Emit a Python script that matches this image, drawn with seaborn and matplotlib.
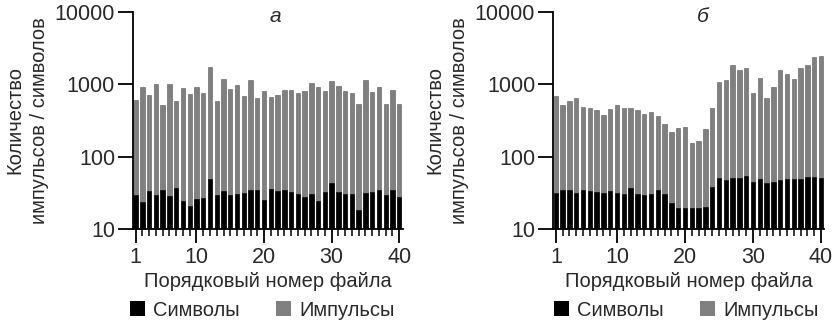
import numpy as np
import pandas as pd
import seaborn as sns
import matplotlib.pyplot as plt
from matplotlib.patches import Patch
from matplotlib.ticker import FixedLocator, NullLocator


file_no = list(range(1, 41))

# panel а
impulses_a = [600, 910, 700, 1000, 510, 1000, 580, 900, 745, 930,
              765, 1750, 595, 1200, 870, 980, 690, 1160, 655, 800,
              676, 705, 826, 835, 765, 800, 1055, 930, 800, 1100,
              940, 810, 765, 540, 1160, 775, 930, 540, 826, 535]
symbols_a = [29, 23.5, 33, 29, 34, 28.5, 37, 24, 21, 26,
             27, 49, 29, 33, 29, 30, 31, 35, 35, 25,
             36, 33, 34, 32, 30, 28, 30, 24, 32, 43,
             32, 30, 30, 18, 31, 32, 34, 29, 35, 28]

# panel б
impulses_b = [690, 525, 583, 648, 492, 477, 443, 374, 448, 525,
              472, 472, 434, 386, 420, 362, 278, 218, 250, 255,
              155, 165, 242, 472, 1090, 1160, 1850, 1595, 1660, 767,
              1220, 648, 910, 1595, 1400, 1185, 1660, 1850, 2410, 2485]
symbols_b = [31, 35, 35, 31, 35, 33, 32, 31, 33, 31,
             30, 37, 30, 29, 30, 35, 30, 23, 19.5, 19.5,
             19.5, 19.5, 20, 38, 50, 48, 50, 50, 54, 45,
             49, 43, 44, 47, 49, 49, 49, 52, 52, 50]

panel_titles = ["а", "б"]
series_names = ["Символы", "Импульсы"]
colors = {"Символы": "#000000", "Импульсы": "#808080"}
text_col = "#2a2a2a"

plt.rcParams["font.family"] = ["Liberation Sans", "DejaVu Sans"]

fig = plt.figure(figsize=(8.37, 3.22), dpi=100)
positions = [[0.159, 0.289, 0.322, 0.674], [0.661, 0.289, 0.324, 0.674]]
panels = [(impulses_a, symbols_a), (impulses_b, symbols_b)]

for pos, (imp, sym), title, tx, lx in zip(positions, panels, panel_titles,
                                          [0.528, 0.55], [0.48, 0.49]):
    ax = fig.add_axes(pos)
    df = pd.DataFrame({
        "file": file_no * 2,
        "value": imp + sym,
        "series": ["Импульсы"] * 40 + ["Символы"] * 40,
    })
    ax.set_yscale("log")
    sns.barplot(data=df, x="file", y="value", hue="series",
                hue_order=["Импульсы", "Символы"], palette=colors,
                dodge=False, native_scale=True, width=0.65,
                edgecolor="#5a5a5a", linewidth=0.4, legend=False, ax=ax)
    # black bars without grey edge
    for bar in ax.patches[40:]:
        bar.set_edgecolor("black")

    ax.set_ylim(10, 10000)
    ax.set_xlim(0.62, 40.5)
    ax.yaxis.set_major_locator(FixedLocator([10, 100, 1000, 10000]))
    ax.yaxis.set_minor_locator(NullLocator())
    ax.set_yticklabels(["10", "100", "1000", "10000"])
    ax.set_xticks([1, 10, 20, 30, 40])
    ax.set_xticks([i for i in file_no if i not in (1, 10, 20, 30, 40)], minor=True)

    sns.despine(ax=ax)
    for s in ax.spines.values():
        s.set_linewidth(1.3)
    ax.tick_params(axis="y", which="major", length=11, width=1.3,
                   labelsize=15.5, pad=2, labelcolor=text_col)
    ax.tick_params(axis="x", which="major", length=10, width=1.3,
                   labelsize=15.5, pad=3, labelcolor=text_col)
    ax.tick_params(axis="x", which="minor", length=5, width=1.1)

    ax.set_xlabel("Порядковый номер файла", fontsize=14.5, labelpad=3, color=text_col)
    ax.set_ylabel("Количество\nимпульсов / символов", fontsize=14.5,
                  labelpad=4, color=text_col, linespacing=1.4)
    ax.text(tx, 0.955, title, transform=ax.transAxes, fontsize=15,
            style="italic", ha="center", va="baseline", color=text_col)

    handles = [Patch(facecolor=colors[n], edgecolor="none") for n in series_names]
    leg = ax.legend(handles, series_names, loc="center",
                    bbox_to_anchor=(lx, -0.375), ncol=2, frameon=False,
                    fontsize=14.5, handlelength=0.75, handleheight=0.75,
                    handletextpad=0.4, columnspacing=1.8, borderaxespad=0,
                    borderpad=0)
    for t in leg.get_texts():
        t.set_color(text_col)

fig.savefig("out.png", dpi=100)
